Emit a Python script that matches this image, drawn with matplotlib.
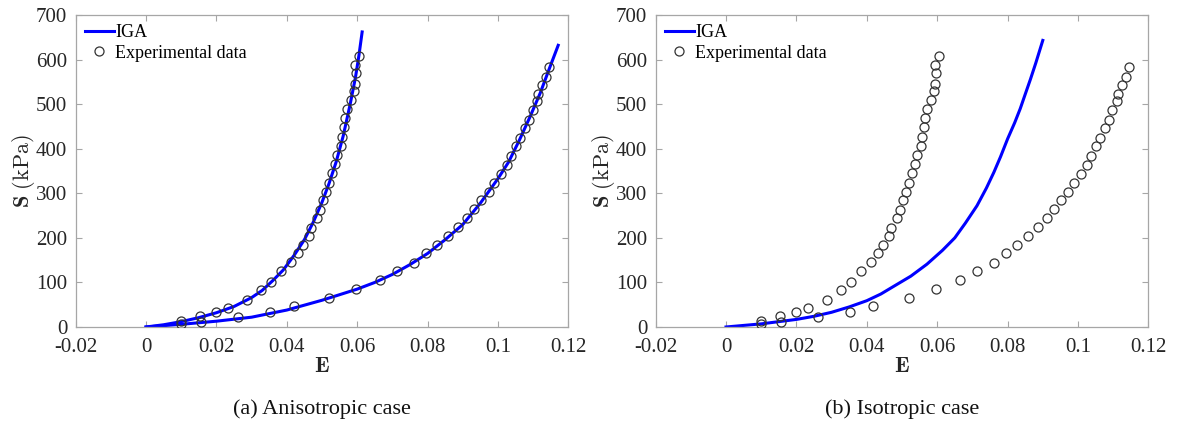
import matplotlib
matplotlib.use("Agg")
import matplotlib.pyplot as plt

plt.rcParams['font.family'] = ['Liberation Serif', 'DejaVu Serif']
plt.rcParams['mathtext.fontset'] = 'cm'

# experimental data, upper branch (fibre direction)
strain_a = [0.0100, 0.0154, 0.0199, 0.0234, 0.0286, 0.0328, 0.0355, 0.0384, 0.0411,
            0.0432, 0.0445, 0.0462, 0.0468, 0.0485, 0.0495, 0.0502, 0.0510, 0.0521,
            0.0528, 0.0537, 0.0542, 0.0553, 0.0556, 0.0563, 0.0566, 0.0572, 0.0582,
            0.0591, 0.0594, 0.0596, 0.0594, 0.0604]
stress_a = [14, 25, 33, 43, 61, 84, 102, 125, 146, 166, 184, 205, 223, 244, 263, 284,
            304, 324, 345, 366, 386, 407, 427, 448, 469, 488, 509, 529, 546, 569, 588, 609]

# experimental data, lower branch (cross-fibre direction)
strain_b = [0.0100, 0.0157, 0.0260, 0.0353, 0.0419, 0.0521, 0.0597, 0.0664, 0.0712,
            0.0761, 0.0796, 0.0828, 0.0859, 0.0886, 0.0912, 0.0932, 0.0953, 0.0973,
            0.0989, 0.1008, 0.1026, 0.1037, 0.1051, 0.1062, 0.1076, 0.1087, 0.1098,
            0.1110, 0.1114, 0.1126, 0.1137, 0.1145]
stress_b = [6, 12, 23, 33, 46, 64, 85, 105, 126, 144, 166, 184, 204, 225, 244, 264,
            284, 304, 323, 344, 364, 384, 405, 425, 446, 465, 486, 506, 523, 543, 562, 583]

# IGA curves, anisotropic case
iga_a_x = [0, 0.005, 0.01, 0.015, 0.02, 0.025, 0.03, 0.033, 0.036, 0.039, 0.042,
           0.045, 0.0475, 0.05, 0.052, 0.054, 0.056, 0.058, 0.0595, 0.0605, 0.0614]
iga_a_y = [0, 5, 12, 21, 32, 46, 66, 82, 104, 128, 160, 196, 235, 280, 322, 370,
           428, 500, 560, 610, 662]
iga_b_x = [0, 0.01, 0.02, 0.03, 0.04, 0.05, 0.06, 0.065, 0.07, 0.075, 0.08, 0.085,
           0.09, 0.095, 0.1, 0.103, 0.106, 0.109, 0.112, 0.1145, 0.1171]
iga_b_y = [0, 6, 13, 22, 38, 60, 85, 100, 118, 140, 165, 196, 230, 278, 333, 370,
           418, 470, 525, 578, 632]

# IGA curve, isotropic case
iga_iso_x = [0, 0.01, 0.02, 0.025, 0.03, 0.035, 0.04, 0.044, 0.0476, 0.0525, 0.0571,
             0.0615, 0.065, 0.068, 0.0713, 0.074, 0.0761, 0.078, 0.08, 0.082, 0.0836,
             0.085, 0.0865, 0.088, 0.09]
iga_iso_y = [0, 7, 17, 24, 33, 45, 59, 74, 91, 114, 141, 172, 200, 233, 272, 312, 347,
             382, 422, 458, 490, 522, 556, 592, 643]

fig = plt.figure(figsize=(11.8, 4.24), dpi=100)
ax1 = fig.add_axes([0.0641, 0.2288, 0.4176, 0.7358])
ax2 = fig.add_axes([0.5556, 0.2288, 0.4176, 0.7358])

ax1.plot(iga_a_x, iga_a_y, color='#0000ff', lw=2.2, label='IGA', zorder=2)
ax1.plot(iga_b_x, iga_b_y, color='#0000ff', lw=2.2, zorder=2)
ax1.plot(strain_a + strain_b, stress_a + stress_b, 'o', mfc='none', mec='#333333',
         ms=6.5, mew=0.9, label='Experimental data', zorder=3)

ax2.plot(iga_iso_x, iga_iso_y, color='#0000ff', lw=2.2, label='IGA', zorder=2)
ax2.plot(strain_a + strain_b, stress_a + stress_b, 'o', mfc='none', mec='#333333',
         ms=6.5, mew=0.9, label='Experimental data', zorder=3)

xticks = [-0.02, 0, 0.02, 0.04, 0.06, 0.08, 0.1, 0.12]
xlabels = ['-0.02', '0', '0.02', '0.04', '0.06', '0.08', '0.1', '0.12']
for ax, cap in [(ax1, '(a) Anisotropic case'), (ax2, '(b) Isotropic case')]:
    ax.set_xlim(-0.02, 0.12)
    ax.set_ylim(0, 700)
    ax.set_xticks(xticks)
    ax.set_xticklabels(xlabels)
    ax.set_yticks(range(0, 701, 100))
    ax.tick_params(direction='in', top=True, right=True, length=4, width=0.8,
                   color='#a6a6a6', labelsize=15, labelcolor='#262626')
    ax.tick_params(axis='x', pad=8)
    ax.tick_params(axis='y', pad=6)
    for s in ax.spines.values():
        s.set_color('#a6a6a6')
        s.set_linewidth(0.9)
    ax.set_xlabel(r'$\mathbf{E}$', fontsize=16, color='#262626', labelpad=1)
    ax.set_ylabel(r'$\mathbf{S}\ \mathrm{(kPa)}$', fontsize=16, color='#262626', labelpad=-1)
    ax.legend(loc='upper left', frameon=False, fontsize=13, handlelength=1.6,
              handletextpad=0.1, borderaxespad=0.2, labelspacing=0.2,
              borderpad=0.3)
    ax.text(0.5, -0.262, cap, transform=ax.transAxes, ha='center', va='center',
            fontsize=16, color='#111111')

fig.savefig('out.png', dpi=100)
